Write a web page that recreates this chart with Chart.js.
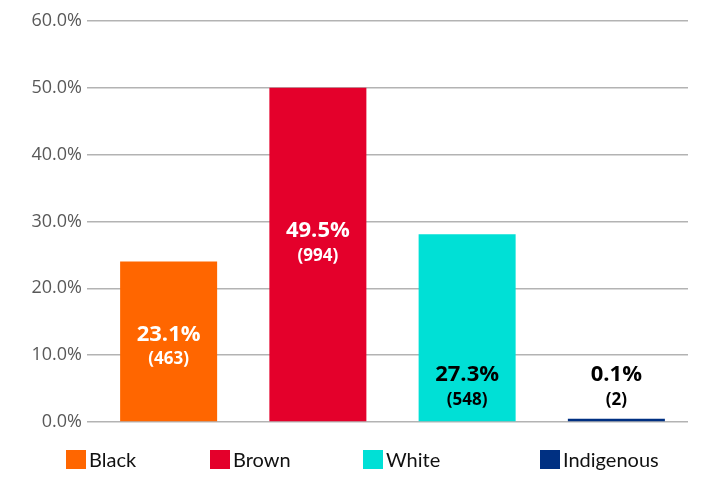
<!DOCTYPE html>
<html>
<head>
<meta charset="utf-8">
<script src="https://cdn.jsdelivr.net/npm/chart.js@4.4.1/dist/chart.umd.min.js"></script>
<style>
  html, body { margin: 0; padding: 0; background: #ffffff; }
  #wrap { width: 705px; height: 479px; position: relative; }
</style>
</head>
<body>
<div id="wrap"><canvas id="c" width="705" height="479"></canvas></div>
<script>
// ---- data ----
const categories = ["Black", "Brown", "White", "Indigenous"];
const barValues = [24.0, 50.0, 28.1, 0.5];          // bar heights as drawn (%)
const percentLabels = ["23.1%", "49.5%", "27.3%", "0.1%"];
const countLabels = ["(463)", "(994)", "(548)", "(2)"];
const yTicks = [0, 10, 20, 30, 40, 50, 60];

// ---- styles ----
const barColors = ["#FF6600", "#E4002B", "#00E0D6", "#003082"];
const labelColors = ["#ffffff", "#ffffff", "#000000", "#000000"];
const labelAnchors = [13.1, 28.6, 7.0, 7.0];   // label vertical anchor, in axis units
const legendX = [66, 210, 363, 540];

const labelPlugin = {
  id: 'barLabels',
  afterDatasetsDraw(chart) {
    const ctx = chart.ctx;
    const meta = chart.getDatasetMeta(0);
    const y = chart.scales.y;
    ctx.save();
    ctx.textAlign = 'center';
    ctx.textBaseline = 'middle';
    meta.data.forEach((bar, i) => {
      const cy = y.getPixelForValue(labelAnchors[i]);
      ctx.fillStyle = labelColors[i];
      ctx.font = 'bold 22px "Open Sans"';
      ctx.fillText(percentLabels[i], bar.x, cy);
      ctx.font = 'bold 17px "Open Sans"';
      ctx.fillText(countLabels[i], bar.x, cy + 25);
    });
    ctx.restore();
  }
};

// shift the category band slightly (category axis spans 94..691 while grid spans 87..688)
const xBandPlugin = {
  id: 'xBand',
  afterLayout(chart) {
    const x = chart.scales.x;
    x.left = 94; x.right = 691; x.width = x.right - x.left;
    x.configure();
  }
};

const legendPlugin = {
  id: 'customLegend',
  afterDraw(chart) {
    const ctx = chart.ctx;
    ctx.save();
    ctx.textBaseline = 'alphabetic';
    ctx.textAlign = 'left';
    categories.forEach((c, i) => {
      ctx.fillStyle = barColors[i];
      ctx.fillRect(legendX[i], 450, 20, 19);
      ctx.fillStyle = '#111111';
      ctx.font = '20px Lato';
      ctx.fillText(c, legendX[i] + 23, 467);
    });
    ctx.restore();
  }
};

new Chart(document.getElementById('c'), {
  type: 'bar',
  data: {
    labels: categories,
    datasets: [{
      data: barValues,
      backgroundColor: barColors,
      borderWidth: 0,
      barPercentage: 0.65,
      categoryPercentage: 1.0,
      clip: false
    }]
  },
  options: {
    responsive: false,
    animation: false,
    devicePixelRatio: 1,
    layout: { padding: { left: 0, right: 17, top: 21, bottom: 57 } },
    plugins: {
      legend: { display: false },
      tooltip: { enabled: false },
      title: { display: false }
    },
    scales: {
      x: {
        display: false
      },
      y: {
        min: 0,
        max: 60,
        afterFit(scale) { scale.width = 87; },
        afterBuildTicks(scale) { scale.ticks = yTicks.map(v => ({ value: v })); },
        border: { display: false },
        grid: { color: '#B3B3B3', lineWidth: 1.6, drawTicks: false },
        ticks: {
          padding: 5,
          color: '#595959',
          font: { family: '"Open Sans"', size: 18 },
          callback: v => v.toFixed(1) + '%'
        }
      }
    }
  },
  plugins: [xBandPlugin, labelPlugin, legendPlugin]
});
</script>
</body>
</html>
